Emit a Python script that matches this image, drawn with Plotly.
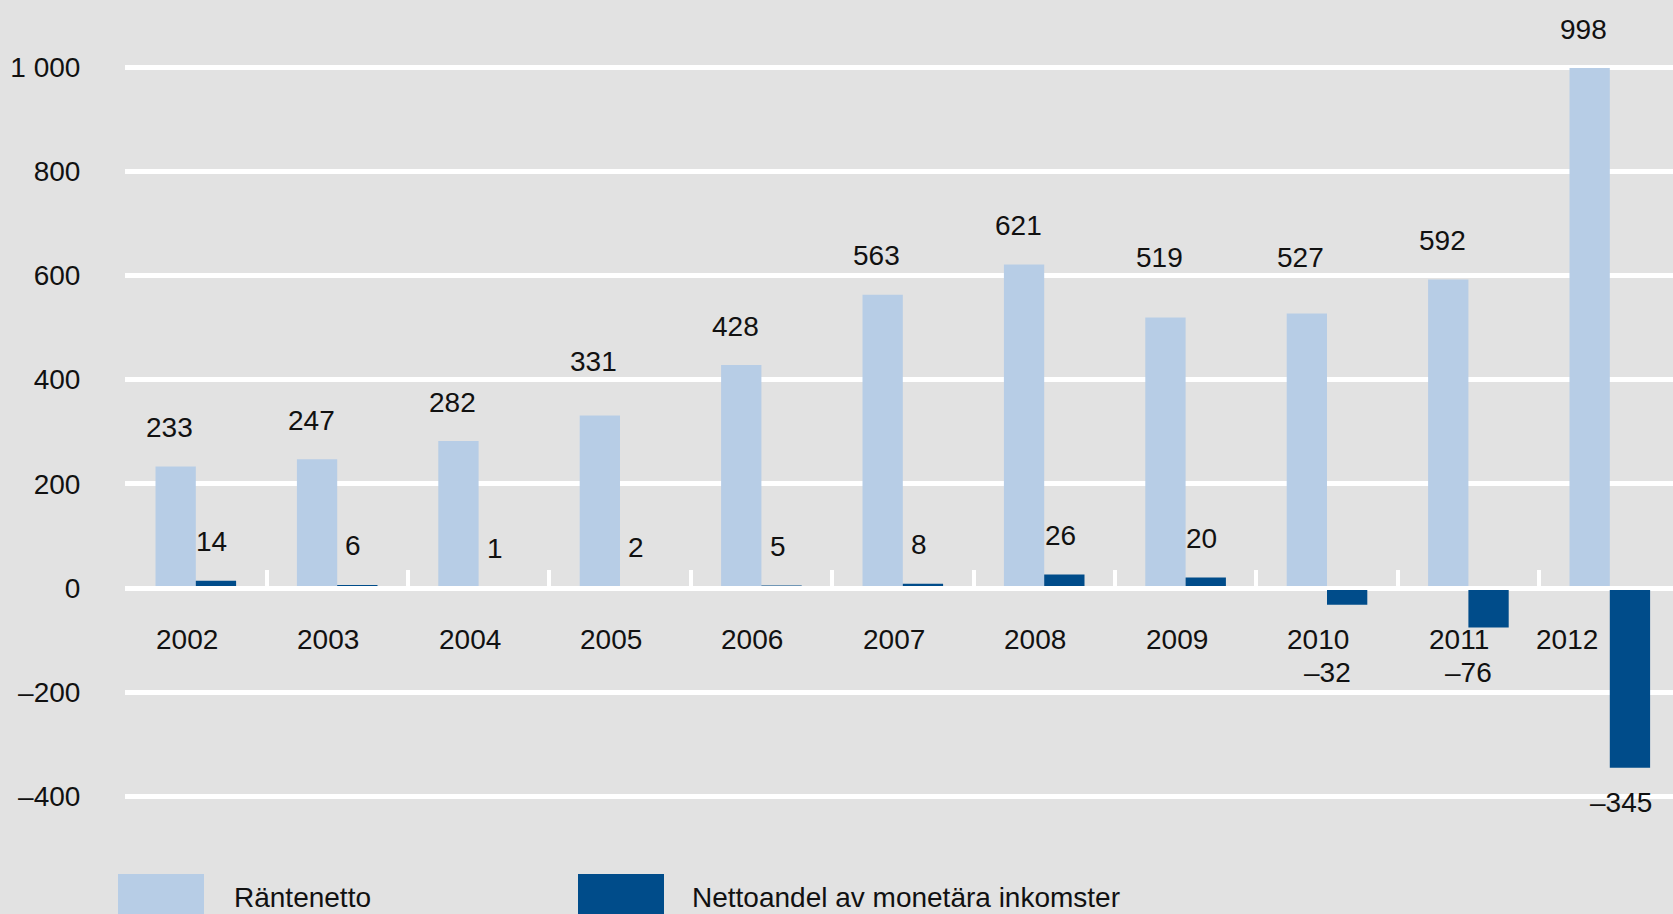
import plotly.graph_objects as go

# ---------------- data ----------------
years = [2002, 2003, 2004, 2005, 2006, 2007, 2008, 2009, 2010, 2011, 2012]
rantenetto = [233, 247, 282, 331, 428, 563, 621, 519, 527, 592, 998]
nettoandel = [14, 6, 1, 2, 5, 8, 26, 20, -32, -76, -345]
series_names = ["Räntenetto", "Nettoandel av monetära inkomster"]
y_tickvals = [-400, -200, 0, 200, 400, 600, 800, 1000]
y_ticktext = ["–400", "–200", "0", "200", "400", "600", "800", "1 000"]

# ---------------- style ----------------
LIGHT = "#B7CDE6"
DARK = "#004C8A"
BG = "#E2E2E2"
FONT = "Liberation Sans, Arial, sans-serif"
FS = 28
W, H = 1673, 914
ML, MR, MT, MB = 125, 0, 0, 97
PLOT_W = W - ML - MR
PLOT_H = H - MT - MB
Y_RANGE = [-439.5, 1128.6]
X_RANGE = [years[0] - 0.5007, years[0] - 0.5007 + PLOT_W / 141.4]
BAR_W = 0.285
PX_PER_UNIT = PLOT_H / (Y_RANGE[1] - Y_RANGE[0])
LABEL_GAP = 39      # px between bar top and label centre
HALF_TXT = 11       # half the glyph height of the labels, px

fig = go.Figure()
fig.add_trace(go.Bar(x=years, y=rantenetto, name=series_names[0],
                     marker=dict(color=LIGHT, line=dict(width=0)),
                     offset=-BAR_W, width=BAR_W, showlegend=False))
fig.add_trace(go.Bar(x=years, y=nettoandel, name=series_names[1],
                     marker=dict(color=DARK, line=dict(width=0)),
                     offset=0, width=BAR_W, showlegend=False))


def fmt(v):
    return ("–" + str(abs(v))) if v < 0 else str(v)


def label_shift(v):
    """Pixel shift above the bar top; lifted above a gridline if it would collide."""
    shift = LABEL_GAP
    centre = v * PX_PER_UNIT + shift  # px above zero
    for g in y_tickvals:
        if g <= 0:
            continue
        gpx = g * PX_PER_UNIT
        if abs(centre - gpx) < HALF_TXT + 5:
            shift = gpx + 18 - v * PX_PER_UNIT
    return shift


ann = []
for yr, v in zip(years, rantenetto):
    ann.append(dict(x=yr - BAR_W / 2, y=v, xref="x", yref="y", text=fmt(v),
                    showarrow=False, xshift=-6, yshift=label_shift(v), yanchor="middle"))
for yr, v in zip(years, nettoandel):
    if v >= 0:
        ann.append(dict(x=yr + BAR_W / 2, y=v, xref="x", yref="y", text=fmt(v),
                        showarrow=False, xshift=-4, yshift=LABEL_GAP, yanchor="middle"))
    elif v > -150:
        ann.append(dict(x=yr + BAR_W / 2, y=0, xref="x", yref="y", text=fmt(v),
                        showarrow=False, xshift=-20, yshift=-84, yanchor="middle"))
    else:
        ann.append(dict(x=yr + BAR_W / 2, y=v, xref="x", yref="y", text=fmt(v),
                        showarrow=False, xshift=-9, yshift=-35, yanchor="middle"))

# year labels just below the zero line
for yr, v in zip(years, nettoandel):
    if v < -150:
        ann.append(dict(x=yr, y=0, xref="x", yref="y", text=str(yr), showarrow=False,
                        xanchor="right", xshift=-10, yshift=-51.5, yanchor="middle"))
    else:
        ann.append(dict(x=yr, y=0, xref="x", yref="y", text=str(yr), showarrow=False,
                        xanchor="center", xshift=-9, yshift=-51.5, yanchor="middle"))

# custom legend (large swatches)
shapes = []
legend_items = [(series_names[0], LIGHT, -7, 106.5), (series_names[1], DARK, 453, 565)]
for name, col, sx, tx in legend_items:
    shapes.append(dict(type="rect", xref="paper", yref="paper",
                       xsizemode="pixel", ysizemode="pixel", xanchor=0, yanchor=0,
                       x0=sx, x1=sx + 86, y0=-(874 - PLOT_H), y1=-(920 - PLOT_H),
                       fillcolor=col, line=dict(width=0), layer="above"))
    ann.append(dict(x=0, y=0, xref="paper", yref="paper", text=name, showarrow=False,
                    xanchor="left", yanchor="middle", xshift=tx,
                    yshift=-(897.5 - PLOT_H)))

fig.update_layout(
    width=W, height=H,
    margin=dict(l=ML, r=MR, t=MT, b=MB, pad=0),
    paper_bgcolor=BG, plot_bgcolor=BG,
    barmode="overlay",
    font=dict(family=FONT, size=FS, color="#111111"),
    showlegend=False,
    annotations=ann,
    shapes=shapes,
    xaxis=dict(
        range=X_RANGE, showgrid=False, zeroline=False,
        anchor="free",
        position=(0 - Y_RANGE[0]) / (Y_RANGE[1] - Y_RANGE[0]),
        showline=True, linecolor="white", linewidth=4,
        tickmode="array", tickvals=[y + 0.5 for y in years[:-1]],
        ticks="inside", ticklen=16, tickwidth=4, tickcolor="white",
        showticklabels=False, layer="above traces",
    ),
    yaxis=dict(
        range=Y_RANGE, tickmode="array", tickvals=y_tickvals, ticktext=y_ticktext,
        showgrid=True, gridcolor="white", gridwidth=5, zeroline=False,
        ticks="outside", ticklen=38, tickcolor="rgba(0,0,0,0)",
        tickfont=dict(family=FONT, size=FS, color="#111111"),
        showline=False,
    ),
)

fig.write_html("out.html", config={"displayModeBar": False},
               post_script="document.body.style.margin='0';")
